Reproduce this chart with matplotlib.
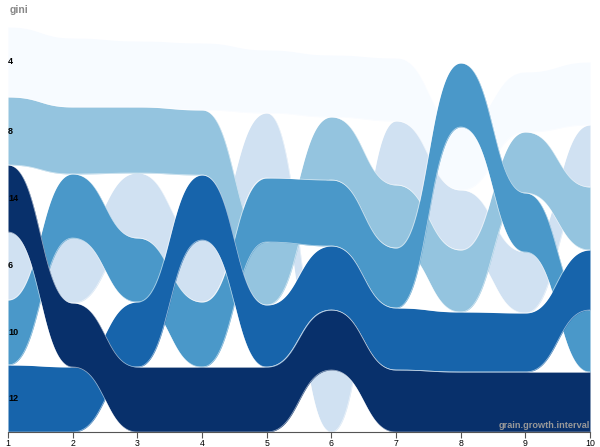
import numpy as np
import matplotlib.pyplot as plt

# grain.growth.interval steps
steps = [1, 2, 3, 4, 5, 6, 7, 8, 9, 10]

# gini categories and their band sizes at each step
gini = [4, 6, 8, 10, 12, 14]
size_4 = [70, 69, 66, 67, 63, 62, 63, 63, 60, 63]
size_6 = [68, 65, 65, 62, 65, 62, 64, 60, 61, 62]
size_8 = [68, 67, 66, 65, 63, 63, 63, 62, 61, 63]
size_10 = [65, 64, 64, 65, 64, 66, 60, 64, 59, 62]
size_12 = [67, 65, 65, 65, 62, 64, 62, 60, 59, 60]
size_14 = [67, 64, 65, 65, 65, 60, 62, 60, 60, 60]

# stacking order at each step, top to bottom
order = [
    [4, 8, 14, 6, 10, 12],
    [4, 8, 10, 6, 14, 12],
    [4, 8, 6, 10, 12, 14],
    [4, 8, 12, 6, 10, 14],
    [4, 6, 10, 8, 12, 14],
    [4, 8, 10, 12, 14, 6],
    [4, 6, 8, 10, 12, 14],
    [10, 4, 6, 8, 12, 14],
    [4, 8, 10, 6, 12, 14],
    [4, 6, 8, 12, 10, 14],
]

sizes = {4: size_4, 6: size_6, 8: size_8, 10: size_10, 12: size_12, 14: size_14}
colors = {4: "#f7fbff", 6: "#d0e1f2", 8: "#94c4df", 10: "#4a98c9", 12: "#1764ab", 14: "#08306b"}


def bump(x, y, n=60):
    # like d3.curveBumpX: flat at every step, s-shaped in between
    t = np.linspace(0, 1, n)
    xs, ys = [], []
    for i in range(len(x) - 1):
        xs.append(x[i] + (x[i + 1] - x[i]) * (1.5 * t - 1.5 * t**2 + t**3))
        ys.append(y[i] + (y[i + 1] - y[i]) * (3 * t**2 - 2 * t**3))
    return np.concatenate(xs), np.concatenate(ys)


# stack from the bottom in the order of each step
lower = {g: [] for g in gini}
upper = {g: [] for g in gini}
for j in range(len(steps)):
    base = 0
    for g in reversed(order[j]):
        lower[g].append(base)
        base += sizes[g][j]
        upper[g].append(base)

fig = plt.figure(figsize=(6, 4.47), dpi=100)
ax = fig.add_axes([8 / 600, 15 / 447, 582 / 600, 405 / 447])

for g in gini:
    xx, lo = bump(steps, lower[g])
    _, hi = bump(steps, upper[g])
    ax.fill_between(xx, lo, hi, color=colors[g], lw=0, zorder=2)
    ax.plot(xx, lo, color="white", lw=0.5, alpha=0.6, zorder=2)
    ax.plot(xx, hi, color="white", lw=0.5, alpha=0.6, zorder=2)

for g in gini:
    mid = (lower[g][0] + upper[g][0]) / 2
    ax.text(steps[0], mid, str(g), ha="left", va="center", fontsize=6.5,
            fontweight="bold", color="black", family="Liberation Sans", zorder=5)

ax.set_xlim(1, 10)
ax.set_ylim(0, 405)
for side in ["left", "right", "top"]:
    ax.spines[side].set_visible(False)
ax.spines["bottom"].set_color("#555555")
ax.spines["bottom"].set_linewidth(0.8)
ax.set_yticks([])
ax.set_xticks(steps)
ax.tick_params(axis="x", length=4, width=0.8, color="#555555", pad=1, labelsize=6.3)
for lab in ax.get_xticklabels():
    lab.set_family("Liberation Sans")

fig.text(10 / 600, 1 - 10 / 447, "gini", ha="left", va="center", fontsize=7.5,
         fontweight="bold", color="#888888", family="Liberation Sans")
ax.text(10, 6, "grain.growth.interval", ha="right", va="center", fontsize=6.6,
        fontweight="bold", color="#999999", family="Liberation Sans", zorder=6)

fig.savefig("out.png", dpi=100)
